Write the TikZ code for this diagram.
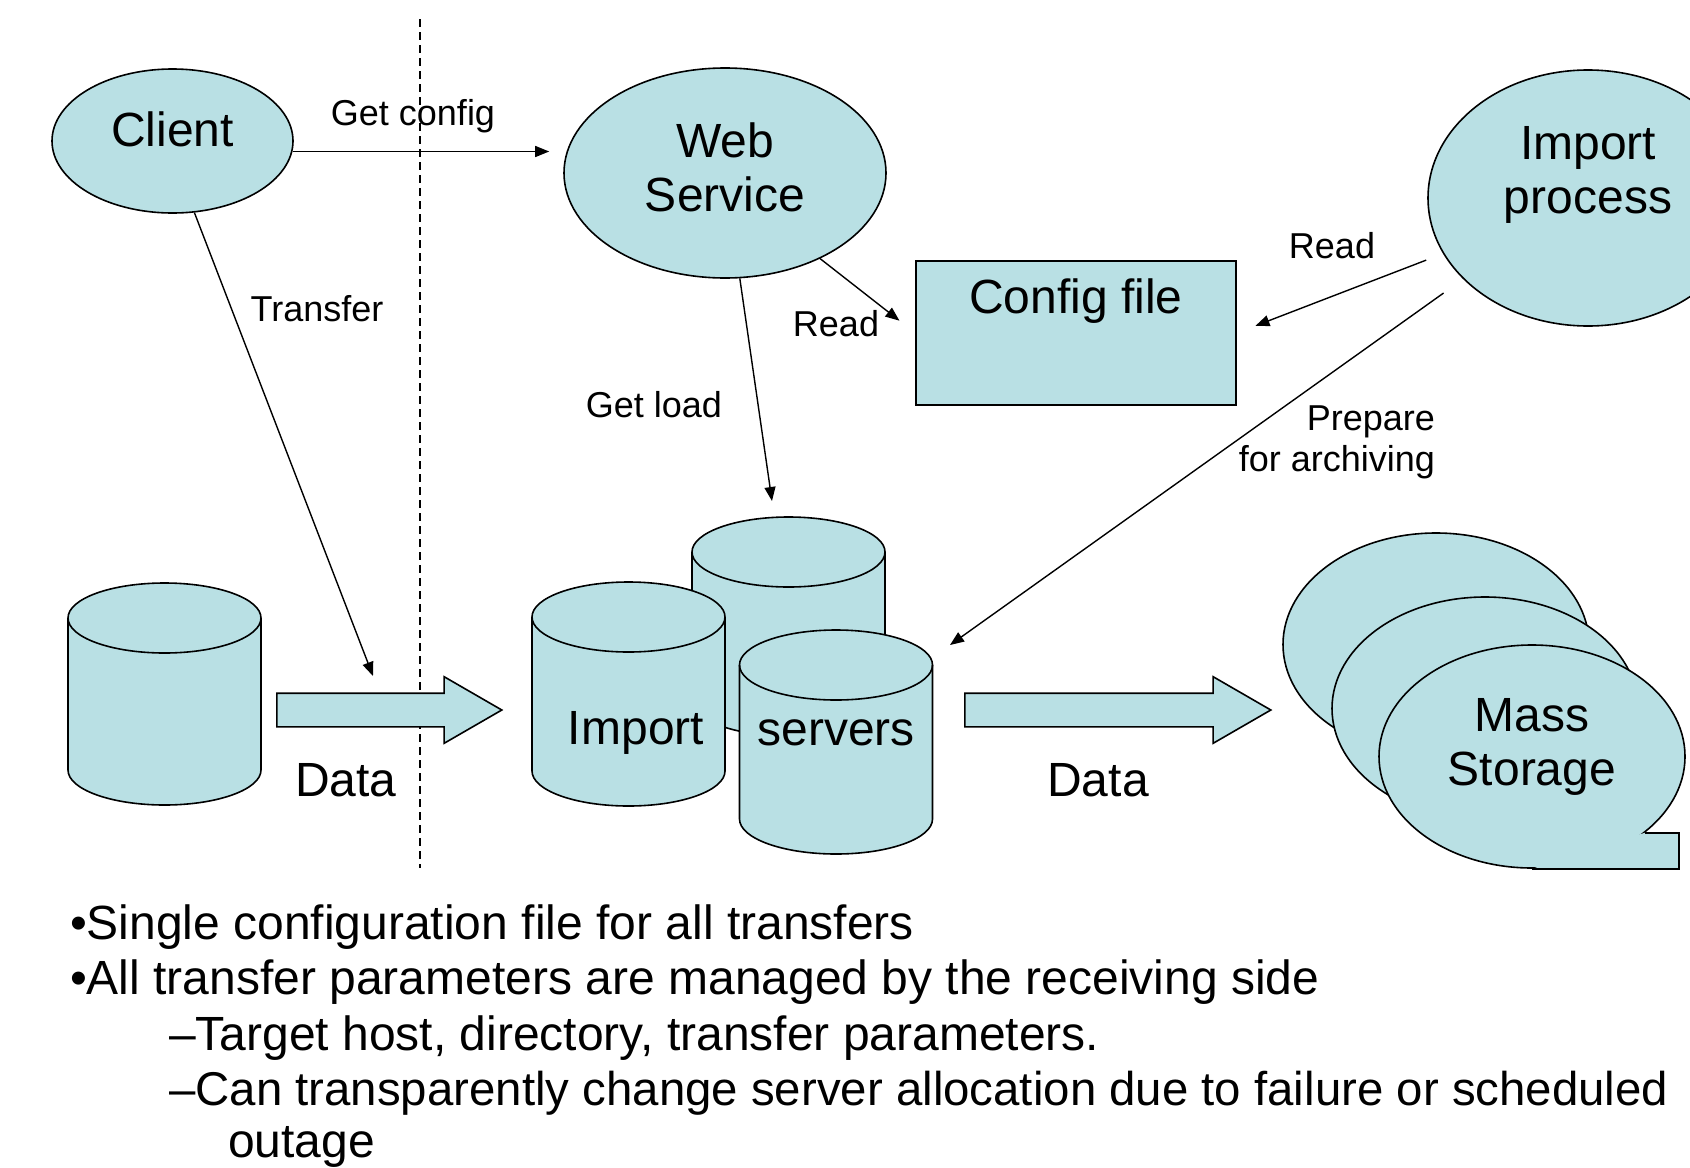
\documentclass[tikz,border=0pt]{standalone}
\usepackage{fontspec}
\setmainfont{Liberation Sans}
\usetikzlibrary{shapes.geometric,shapes.arrows,arrows.meta}
\definecolor{paleblue}{RGB}{185,224,228}
\tikzset{
  blob/.style={ellipse,draw,fill=paleblue,line width=0.8pt,inner sep=0pt},
  box/.style={rectangle,draw,fill=paleblue,line width=0.8pt,inner sep=0pt},
  disk/.style={draw,fill=paleblue,line width=0.8pt},
  fat arrow/.style={single arrow,draw,fill=paleblue,line width=0.8pt,single arrow tip angle=60,
    single arrow head extend=8.25pt,inner xsep=0pt,inner ysep=8pt,anchor=tail},
  big/.style={font=\fontsize{24}{27}\selectfont},
  small/.style={font=\fontsize{18}{20.5}\selectfont},
  link/.style={-{Triangle[length=7pt,width=5.5pt]},line width=0.7pt},
  divider/.style={line width=0.6pt,dash pattern=on 4pt off 2.5pt}
}
\begin{document}
\begin{tikzpicture}[x=0.5pt,y=-0.5pt]
\useasboundingbox (0,0) rectangle (1690,1167);
% sending / receiving boundary
\draw[divider] (420,19) -- (420,868);
% processes
\node[blob,minimum width=120.5pt,minimum height=72pt,label={[big,yshift=6pt]center:Client}] (client) at (172.5,141) {};
\node[blob,minimum width=161pt,minimum height=105pt,label={[big,align=center,yshift=3pt]center:Web\\Service}] (websvc) at (725,173) {};
\node[blob,minimum width=160pt,minimum height=128pt,label={[big,align=center,yshift=11.5pt]center:Import\\process}] (impproc) at (1588,198) {};
\node[box,minimum width=160pt,minimum height=72pt,label={[big,yshift=16pt]center:Config file}] (config) at (1076,333) {};
% disks: centre x / top / bottom
\foreach \cx/\yt/\yb in {164.5/583/805, 788.5/517/736, 628.5/582/806, 836/630/854} {
  \path[disk] (\cx-96.5,\yt+35) -- (\cx-96.5,\yb-35)
    arc[start angle=180,end angle=360,x radius=48.25pt,y radius=17.5pt]
    -- (\cx+96.5,\yt+35)
    arc[start angle=0,end angle=180,x radius=48.25pt,y radius=17.5pt] -- cycle;
  \draw[line width=0.8pt] (\cx-96.5,\yt+35)
    arc[start angle=180,end angle=360,x radius=48.25pt,y radius=17.5pt];
}
\node[big] (importlbl) at (636,733) {Import};
\node[big] (serverslbl) at (836,733) {servers};
% data flow
\node[fat arrow,minimum height=112.5pt] (data1) at (276,710) {};
\node[fat arrow,minimum height=153pt] (data2) at (964,710) {};
\node[big] (data1lbl) at (346,780) {Data};
\node[big] (data2lbl) at (1098,780) {Data};
% mass storage stack
\node[blob,minimum width=153pt,minimum height=111.5pt] (ms1) at (1436,644.5) {};
\node[blob,minimum width=153pt,minimum height=111.5pt] (ms2) at (1485,708.5) {};
\node[blob,minimum width=153pt,minimum height=111.5pt,label={[big,align=center,yshift=5pt]center:Mass\\Storage}] (ms3) at (1532,756.5) {};
\fill[paleblue] (ms3.-34.6) -- ++(17pt,0pt) |- (ms3.south) -- cycle;
\draw[line width=0.8pt] (ms3.-34.6) -- ++(17pt,0pt) |- (ms3.south);
% arrow labels
\node[small] (getcfg) at (413,116) {Get config};
\node[small] (xferlbl) at (317,309) {Transfer};
\node[small] (read1) at (836,324) {Read};
\node[small] (getload) at (654,405) {Get load};
\node[small] (read2) at (1332,246) {Read};
\node[small,align=right,anchor=east] (preplbl) at (1442,442) {Prepare\\for archiving};
% free ends
\coordinate (xferend) at (373,676);
\coordinate (loadend) at (772,501);
\coordinate (prepend) at (950,645);
\draw[link,shorten >=7pt] (client.-5) -- (client.-5 -| websvc.west);
\draw[link] (client.-73) -- (xferend);
\draw[link] (websvc.-82) -- (loadend);
\draw[link,shorten >=10pt] (websvc.-42.5) -- (config.west);
\draw[link,shorten <=9pt,shorten >=10pt] (impproc.201.5) -- (config.east);
\draw[link,shorten <=12pt] (impproc.213) -- (prepend);
% notes
\node[big,anchor=base west] (pt1) at (63,939) {•Single configuration file for all transfers};
\node[big,anchor=base west] (pt2) at (63,994) {•All transfer parameters are managed by the receiving side};
\node[big,anchor=base west] (pt3) at (162,1050) {–Target host, directory, transfer parameters.};
\node[big,anchor=base west,font=\fontsize{23.7}{27}\selectfont] (pt4) at (162,1105) {–Can transparently change server allocation due to failure or scheduled};
\node[big,anchor=base west] (pt5) at (221,1157) {outage};
\end{tikzpicture}
\end{document}
